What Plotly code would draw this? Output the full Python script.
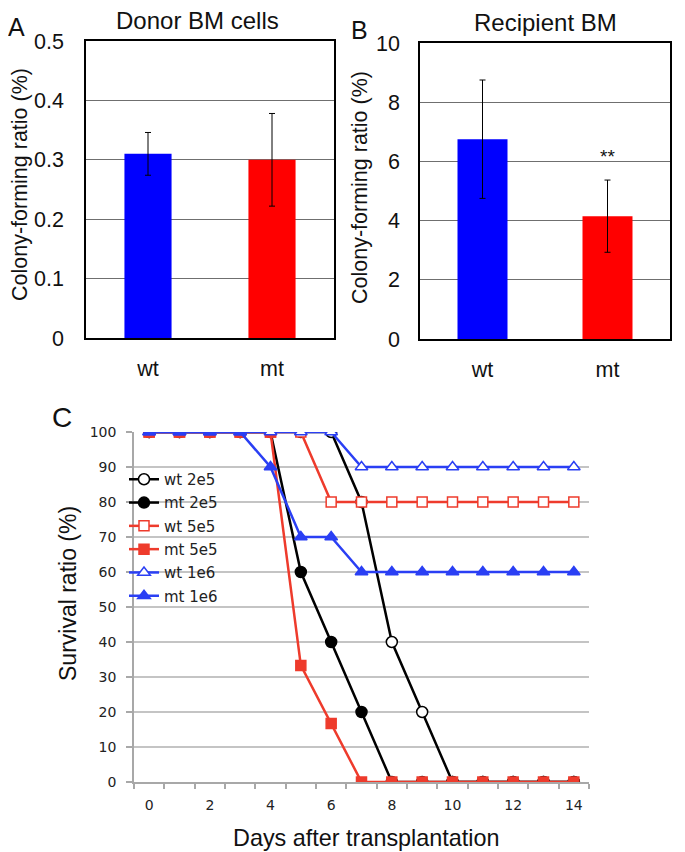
import plotly.graph_objects as go

# panel A / B data
groups = ['wt', 'mt']
donor_vals = [0.31, 0.30]
donor_err = [0.036, 0.078]
recip_vals = [6.75, 4.15]
recip_err = [2.0, 1.22]
bar_colors = ['#0000ff', '#ff0000']

# panel C data
days = list(range(15))
wt_2e5 = [100, 100, 100, 100, 100, 100, 100, 80, 40, 20, 0, 0, 0, 0, 0]
mt_2e5 = [100, 100, 100, 100, 100, 60, 40, 20, 0, 0, 0, 0, 0, 0, 0]
wt_5e5 = [100, 100, 100, 100, 100, 100, 80, 80, 80, 80, 80, 80, 80, 80, 80]
mt_5e5 = [100, 100, 100, 100, 100, 33.3, 16.7, 0, 0, 0, 0, 0, 0, 0, 0]
wt_1e6 = [100, 100, 100, 100, 100, 100, 100, 90, 90, 90, 90, 90, 90, 90, 90]
mt_1e6 = [100, 100, 100, 100, 90, 70, 70, 60, 60, 60, 60, 60, 60, 60, 60]

# page puts the plot 8px in from the corner
OFF = 8
W, H = 685 - OFF, 852 - OFF
RED = '#ee3b2c'
BLUE = '#2a3ff4'
SANS = 'Liberation Sans, Arial, sans-serif'
EXCEL = 'DejaVu Sans, Verdana, sans-serif'


def px_x(p):
    return (p - OFF) / W


def px_y(p):
    return 1 - (p - OFF) / H


fig = go.Figure()

fig.add_trace(go.Bar(x=groups, y=donor_vals, marker_color=bar_colors,
                     marker_line_width=0, width=0.38,
                     error_y=dict(type='data', array=donor_err, color='black',
                                  thickness=1, width=3),
                     xaxis='x', yaxis='y', showlegend=False))
fig.add_trace(go.Bar(x=groups, y=recip_vals, marker_color=bar_colors,
                     marker_line_width=0, width=0.4,
                     error_y=dict(type='data', array=recip_err, color='black',
                                  thickness=1, width=3),
                     xaxis='x2', yaxis='y2', showlegend=False))

series = [
    ('wt 2e5', wt_2e5, 'black', 'circle', 'white'),
    ('mt 2e5', mt_2e5, 'black', 'circle', 'black'),
    ('wt 5e5', wt_5e5, RED, 'square', 'white'),
    ('mt 5e5', mt_5e5, RED, 'square', RED),
    ('wt 1e6', wt_1e6, BLUE, 'triangle-up', 'white'),
    ('mt 1e6', mt_1e6, BLUE, 'triangle-up', BLUE),
]
for name, vals, col, sym, fill in series:
    fig.add_trace(go.Scatter(
        x=days, y=vals, name=name, legendgroup=name, mode='lines+markers',
        line=dict(color=col, width=2.5),
        marker=dict(symbol=sym, size=11 if sym != 'square' else 10,
                    color=fill, line=dict(color=col, width=1.5)),
        xaxis='x3', yaxis='y3'))

box_axis = dict(showline=True, linecolor='black', linewidth=1.5, mirror=True,
                ticks='', tickfont=dict(family=SANS, size=21.5, color='#111'),
                automargin=False, fixedrange=True)

fig.update_layout(
    width=W, height=H,
    margin=dict(l=0, r=0, t=0, b=0, autoexpand=False),
    paper_bgcolor='white', plot_bgcolor='white',
    xaxis=dict(domain=[px_x(86), px_x(334)], showgrid=False,
               ticklabelstandoff=10, anchor='y', **box_axis),
    yaxis=dict(domain=[px_y(338), px_y(41)], range=[0, 0.5],
               tickvals=[0, 0.1, 0.2, 0.3, 0.4, 0.5],
               ticktext=['0', '0.1', '0.2', '0.3', '0.4', '0.5'],
               showgrid=True, gridcolor='#6f6f6f', gridwidth=1,
               ticklabelstandoff=16, anchor='x', **box_axis),
    xaxis2=dict(domain=[px_x(420), px_x(670)], showgrid=False,
                ticklabelstandoff=10, anchor='y2', **box_axis),
    yaxis2=dict(domain=[px_y(339), px_y(43)], range=[0, 10],
                tickvals=[0, 2, 4, 6, 8, 10],
                showgrid=True, gridcolor='#6f6f6f', gridwidth=1,
                ticklabelstandoff=14, anchor='x2', **box_axis),
    xaxis3=dict(domain=[px_x(134), px_x(589)], range=[-0.5, 14.5],
                tickvals=[0, 2, 4, 6, 8, 10, 12, 14], ticks='',
                showline=True, linecolor='#a8a8a8', linewidth=1.5,
                showgrid=False, zeroline=False, automargin=False,
                tickfont=dict(family=EXCEL, size=14, color='#222'),
                ticklabelstandoff=9,
                minor=dict(tickvals=[i - 0.5 for i in range(16)], ticks='outside',
                           ticklen=5, tickcolor='#a8a8a8', tickwidth=1.5,
                           showgrid=False),
                anchor='y3', fixedrange=True),
    yaxis3=dict(domain=[px_y(782), px_y(432)], range=[0, 100], dtick=10,
                showline=True, linecolor='#a8a8a8', linewidth=1.5,
                showgrid=True, gridcolor='#c4c4c4', gridwidth=1.5,
                zeroline=False, ticks='outside', ticklen=6, automargin=False,
                tickcolor='#a8a8a8', tickwidth=1.5, ticklabelstandoff=7,
                tickfont=dict(family=EXCEL, size=14, color='#222'),
                anchor='x3', fixedrange=True),
    legend=dict(x=px_x(124), y=px_y(463), xanchor='left', yanchor='top',
                bgcolor='rgba(0,0,0,0)', borderwidth=0,
                font=dict(family=EXCEL, size=15, color='#222'),
                itemwidth=30, tracegroupgap=0.8),
    showlegend=True,
)

annotations = [
    dict(text='A', x=px_x(16), y=px_y(27), font=dict(size=25)),
    dict(text='B', x=px_x(359), y=px_y(30), font=dict(size=25)),
    dict(text='C', x=px_x(62), y=px_y(418), font=dict(size=28)),
    dict(text='Donor BM cells', x=px_x(197), y=px_y(20), font=dict(size=24)),
    dict(text='Recipient BM', x=px_x(545), y=px_y(22), font=dict(size=24)),
    dict(text='Colony-forming ratio (%)', x=px_x(20), y=px_y(185),
         textangle=-90, font=dict(size=21.5)),
    dict(text='Colony-forming ratio (%)', x=px_x(360), y=px_y(187),
         textangle=-90, font=dict(size=21.5)),
    dict(text='Survival ratio (%)', x=px_x(68), y=px_y(594),
         textangle=-90, font=dict(size=23)),
    dict(text='Days after transplantation', x=px_x(366), y=px_y(838),
         font=dict(size=23.4)),
    dict(text='**', x='mt', y=6.15, xref='x2', yref='y2', font=dict(size=19)),
]
for a in annotations:
    a.setdefault('xref', 'paper')
    a.setdefault('yref', 'paper')
    a['showarrow'] = False
    a['xanchor'] = 'center'
    a['yanchor'] = 'middle'
    a['font'] = dict(family=SANS, color='#111', **a['font'])
fig.update_layout(annotations=annotations)

fig.write_html("out.html")
